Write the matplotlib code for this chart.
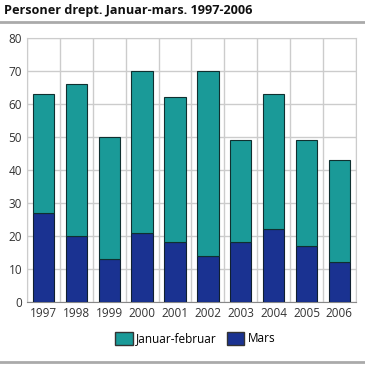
import matplotlib
matplotlib.use("Agg")
import matplotlib.pyplot as plt
from matplotlib.patches import Patch
from matplotlib.lines import Line2D
import numpy as np

plt.rcParams['font.family'] = ['Open Sans', 'DejaVu Sans']

years = ['1997', '1998', '1999', '2000', '2001', '2002', '2003', '2004', '2005', '2006']
mars = [27, 20, 13, 21, 18, 14, 18, 22, 17, 12]
total = [63, 66, 50, 70, 62, 70, 49, 63, 49, 43]
jan_feb = [t - m for t, m in zip(total, mars)]

teal = '#1a9a98'
blue = '#1a3291'
grid_col = '#cccccc'

fig = plt.figure(figsize=(3.65, 3.65), dpi=100)
ax = fig.add_axes([0.074, 0.173, 0.901, 0.723])

x = np.arange(len(years))
ax.bar(x, mars, width=0.65, color=blue, edgecolor='#102030', linewidth=0.8, zorder=3)
ax.bar(x, jan_feb, bottom=mars, width=0.65, color=teal, edgecolor='#103030', linewidth=0.8, zorder=3)

ax.set_xlim(-0.5, len(years) - 0.5)
ax.set_ylim(0, 80)
ax.set_yticks(range(0, 81, 10))
ax.set_xticks(x)
ax.set_xticklabels(years)
ax.set_xticks(np.arange(-0.5, len(years), 1), minor=True)
ax.grid(True, which='major', axis='y', color=grid_col, linewidth=1, zorder=0)
ax.grid(True, which='minor', axis='x', color=grid_col, linewidth=1, zorder=0)
ax.tick_params(which='both', length=0, labelsize=8.5, colors='#333333')
ax.tick_params(axis='x', pad=4)
for s in ax.spines.values():
    s.set_color(grid_col)
ax.spines['bottom'].set_color('#888888')

fig.text(0.012, 0.972, 'Personer drept. Januar-mars. 1997-2006', fontsize=9.1,
         fontweight='bold', ha='left', va='center', color='#111111')
fig.add_artist(Line2D([0, 1], [0.94, 0.94], color='#aaaaaa', linewidth=2))
fig.add_artist(Line2D([0, 1], [0.008, 0.008], color='#aaaaaa', linewidth=2))

handles = [Patch(facecolor=teal, edgecolor='#333333', label='Januar-februar'),
           Patch(facecolor=blue, edgecolor='#333333', label='Mars')]
fig.legend(handles=handles, loc='center', bbox_to_anchor=(0.535, 0.073), ncol=2,
           frameon=False, fontsize=8.5, handlelength=1.5, handleheight=1.3,
           handletextpad=0.3, columnspacing=0.8)

fig.savefig('out.png', dpi=100)
